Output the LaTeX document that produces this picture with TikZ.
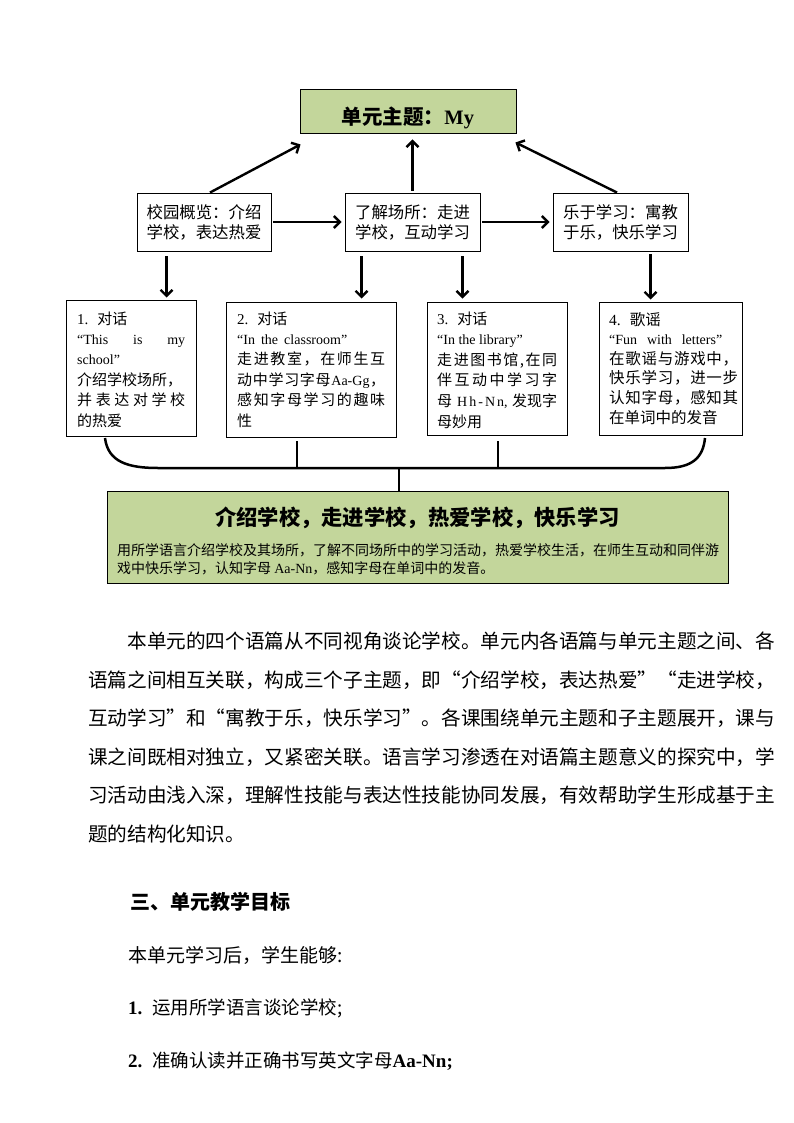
\documentclass[tikz,border=0pt]{standalone}
\usepackage{fontspec}
\setmainfont{Noto Sans CJK SC}
\newfontfamily\lat{Liberation Serif}
\usetikzlibrary{arrows.meta,calc}
\definecolor{boxgreen}{RGB}{195,214,155}
\makeatletter
\def\jl@a#1{#1\jl@b}
\def\jl@b#1{\ifx\relax#1\else\hfil#1\expandafter\jl@b\fi}
\newcommand\jline[2]{\hbox to #1{\jl@a#2\relax}}
\makeatother
\newcommand\boxlines[2]{\vtop{\baselineskip=#1\lineskiplimit=-100pt\lineskip=0pt #2}}
\newcommand\latS{\lat\fontsize{14}{17}\selectfont}
\newcommand\fB{\fontsize{15}{18}\selectfont}
\newcommand\fBB{\fontsize{15.5}{18}\selectfont}
\begin{document}
\begin{tikzpicture}[x=1pt,y=-1pt,
  wbox/.style={draw, line width=0.9pt, fill=white, inner sep=0pt},
  gbox/.style={draw, line width=0.9pt, fill=boxgreen, inner sep=0pt},
  txt/.style={inner sep=0pt, anchor=base west},
  arr/.style={line width=2.4pt, -{Straight Barb[length=6pt,width=12pt]}},
  brk/.style={line width=2.5pt}]
\useasboundingbox[fill=white] (0,0) rectangle (794,1123);

% title
\node[gbox, minimum width=216pt, minimum height=44pt] (T) at (408,111) {};
\node[inner sep=0pt, anchor=base, font=\fontsize{20.5}{24}\selectfont\bfseries] (Tt) at (408,124.8) {单元主题：{\lat\bfseries My}};

% first row
\node[wbox, minimum width=134pt, minimum height=58pt, align=left, font=\fontsize{16.4}{20}\selectfont] (A) at (204,222) {校园概览：介绍\\学校，表达热爱};
\node[wbox, minimum width=135pt, minimum height=58pt, align=left, font=\fontsize{16.4}{20}\selectfont] (B) at (412.5,222) {了解场所：走进\\学校，互动学习};
\node[wbox, minimum width=135pt, minimum height=58pt, align=left, font=\fontsize{16.4}{20}\selectfont] (C) at (620.5,222) {乐于学习：寓教\\于乐，快乐学习};

\draw[arr, shorten <=2pt, shorten >=3pt] (A.east) -- (B.west);
\draw[arr, shorten <=2pt, shorten >=3pt] (B.east) -- (C.west);
\draw[arr] ($(A.north)+(6,0)$) -- ($(T.south west)+(1,11)$);
\draw[arr, shorten <=2pt, shorten >=6pt] (B.north) -- (B.north |- T.south);
\draw[arr] ($(C.north)+(-3.5,0)$) -- ($(T.south east)+(-1,9)$);

% second row boxes
\node[wbox, minimum width=130pt, minimum height=136pt] (b1) at (131,368) {};
\node[wbox, minimum width=170pt, minimum height=135pt] (b2) at (311,369.5) {};
\node[wbox, minimum width=140pt, minimum height=133pt] (b3) at (497,368.5) {};
\node[wbox, minimum width=143pt, minimum height=133pt] (b4) at (670.5,368.5) {};

\draw[arr, shorten >=2pt] ($(A.south west)+(30,5)$) coordinate (d1) -- (d1 |- b1.north);
\draw[arr, shorten >=3pt] ($(B.south west)+(17,5)$) coordinate (d2) -- (d2 |- b2.north);
\draw[arr, shorten >=3pt] ($(B.south east)+(-18,5)$) coordinate (d3) -- (d3 |- b3.north);
\draw[arr, shorten >=2pt] ($(C.south west)+(98,3)$) coordinate (d4) -- (d4 |- b4.north);

% texts of the second row
\node[txt, font=\fB] (b1t) at (77,324) {\boxlines{20.4pt}{%
  \hbox{{\lat 1.\hspace{9pt}}对话}%
  \hbox to 108pt{\latS “This\hfil is\hfil my}%
  \hbox{\latS school”}%
  \hbox{介绍学校场所，}%
  \jline{108pt}{并表达对学校}%
  \hbox{的热爱}}};
\node[txt, font=\fB] (b2t) at (237,324) {\boxlines{20.4pt}{%
  \hbox{{\lat 2.\hspace{9pt}}对话}%
  \hbox to 110pt{\latS “In\hfil the\hfil classroom”}%
  \jline{148pt}{走进教室，在师生互}%
  \hbox to 148pt{动\hfil 中\hfil 学\hfil 习\hfil 字\hfil 母\hfil{\latS Aa-Gg}\hfil ，}%
  \jline{148pt}{感知字母学习的趣味}%
  \hbox{性}}};
\node[txt, font=\fB] (b3t) at (437,324) {\boxlines{20.6pt}{%
  \hbox{{\lat 3.\hspace{9pt}}对话}%
  \hbox{\latS “In the library”}%
  \jline{120pt}{走进图书馆,在同}%
  \jline{120pt}{伴互动中学习字}%
  \hbox to 120pt{母\hskip5pt\hbox to 47pt{\latS H\hfil h\hfil -\hfil N\hfil n}{\latS ,}\hfil 发现字}%
  \hbox{母妙用}}};
\node[txt, font=\fBB] (b4t) at (609,325) {\boxlines{19.6pt}{%
  \hbox{{\lat 4.\hspace{9pt}}歌谣}%
  \hbox to 113pt{\latS “Fun\hfil with\hfil letters”}%
  \jline{129pt}{在歌谣与游戏中，}%
  \jline{129pt}{快乐学习，进一步}%
  \jline{129pt}{认知字母，感知其}%
  \hbox{在单词中的发音}}};

% bracket
\coordinate (k1) at (105,438);
\coordinate (k2) at (158,468);
\coordinate (k3) at (665,468);
\coordinate (k4) at (705,438);
\coordinate (kj) at (399,468);
\draw[brk] (k1) .. controls (108,462) and (128,468) .. (k2) -- (k3) .. controls (692,468) and (703,458) .. (k4);
\draw[line width=2.2pt] (297,441) -- (297,468);
\draw[line width=2.2pt] (498,441) -- (498,468);

% bottom box
\node[gbox, minimum width=621pt, minimum height=92pt] (G) at (417.5,537) {};
\draw[line width=2.2pt] (kj) -- (kj |- G.north);
\node[inner sep=0pt, anchor=base, font=\fontsize{21.3}{24}\selectfont\bfseries] (Gt) at (417.5,525) {介绍学校，走进学校，热爱学校，快乐学习};
\node[txt, font=\fontsize{14}{18}\selectfont] (Gb) at (117,555.3) {\boxlines{18pt}{%
  \jline{600pt}{用所学语言介绍学校及其场所，了解不同场所中的学习活动，热爱学校生活，在师生互动和同伴游}%
  \hbox{戏中快乐学习，认知字母 {\latS Aa-Nn}，感知字母在单词中的发音。}}};

% paragraph
\node[txt, font=\fontsize{19.63}{38.6}\selectfont] (para) at (88,648.4) {\boxlines{38.6pt}{%
  \hbox{\hskip39.26pt\jline{647.7pt}{本单元的四个语篇从不同视角谈论学校。单元内各语篇与单元主题之间、各}}%
  \jline{687pt}{语篇之间相互关联，构成三个子主题，即“介绍学校，表达热爱”“走进学校，}%
  \jline{687pt}{互动学习”和“寓教于乐，快乐学习”。各课围绕单元主题和子主题展开，课与}%
  \jline{687pt}{课之间既相对独立，又紧密关联。语言学习渗透在对语篇主题意义的探究中，学}%
  \jline{687pt}{习活动由浅入深，理解性技能与表达性技能协同发展，有效帮助学生形成基于主}%
  \hbox{题的结构化知识。}}};

% heading and goals
\node[txt, font=\fontsize{20}{24}\selectfont\bfseries] (h3) at (130,909.6) {三、单元教学目标};
\node[txt, font=\fontsize{19}{24}\selectfont] (g0) at (128,962.2) {本单元学习后，学生能够:};
\node[txt, font=\fontsize{18.5}{24}\selectfont] (g1) at (128,1014) {{\lat\bfseries\fontsize{19}{24}\selectfont 1.}\hspace{9.75pt}运用所学语言谈论学校;};
\node[txt, font=\fontsize{18.5}{24}\selectfont] (g2) at (128,1067) {{\lat\bfseries\fontsize{19}{24}\selectfont 2.}\hspace{9.75pt}准确认读并正确书写英文字母{\lat\bfseries\fontsize{19}{24}\selectfont Aa-Nn;}};
\end{tikzpicture}
\end{document}
